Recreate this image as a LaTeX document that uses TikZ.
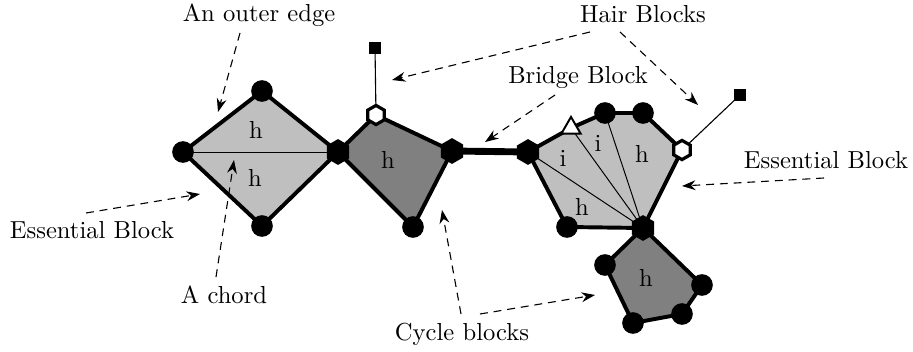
\documentclass[tikz,border=0pt]{standalone}
\usetikzlibrary{shapes.geometric,arrows.meta}
\begin{document}
\begin{tikzpicture}[x=0.4065pt,y=-0.4065pt,
  blk/.style={line width=1.6pt, line join=round},
  light/.style={blk, fill=black!25},
  dark/.style={blk, fill=black!50},
  chord/.style={line width=0.4pt},
  bridge/.style={line width=2.8pt},
  hair/.style={line width=0.45pt},
  dot/.style={circle, fill=black, inner sep=0pt, minimum size=8.8pt},
  cut/.style={regular polygon, regular polygon sides=6, shape border rotate=30, fill=black, inner sep=0pt, minimum size=10.5pt},
  whex/.style={regular polygon, regular polygon sides=6, shape border rotate=30, fill=white, draw=black, line width=1.3pt, inner sep=0pt, minimum size=7.8pt},
  wtri/.style={regular polygon, regular polygon sides=3, fill=white, draw=black, line width=0.8pt, inner sep=0pt, minimum size=9pt},
  sq/.style={rectangle, fill=black, inner sep=0pt, minimum size=5pt},
  lbl/.style={font=\fontsize{10}{12}\selectfont, inner sep=0pt},
  note/.style={dash pattern=on 3.2pt off 2.4pt, line width=0.45pt, -{Stealth[length=5.5pt,width=4pt,inset=1.8pt]}},
]
\useasboundingbox (0,0) rectangle (913,352);
% vertex positions
\coordinate (L1) at (183,152);
\coordinate (L2) at (262,91);
\coordinate (L3) at (338,152);
\coordinate (L4) at (262,226);
\coordinate (D1) at (376,115);
\coordinate (D2) at (452,151);
\coordinate (D3) at (413,227);
\coordinate (R1) at (528,152);
\coordinate (R2) at (571,128);
\coordinate (R3) at (605,113);
\coordinate (R4) at (643,113);
\coordinate (R5) at (682,150);
\coordinate (R6) at (643,228);
\coordinate (R7) at (567,227);
\coordinate (B1) at (605,265);
\coordinate (B2) at (633,323);
\coordinate (B3) at (682,314);
\coordinate (B4) at (702,285);
\coordinate (S1) at (375,48);
\coordinate (S2) at (740,95);
% blocks
\draw[light] (L1) -- (L2) -- (L3) -- (L4) -- cycle;
\draw[dark] (L3) -- (D1) -- (D2) -- (D3) -- cycle;
\draw[light] (R1) -- (R2) -- (R3) -- (R4) -- (R5) -- (R6) -- (R7) -- cycle;
\draw[dark] (R6) -- (B1) -- (B2) -- (B3) -- (B4) -- cycle;
\draw[chord] (L1) -- (L3);
\draw[chord] (R6) -- (R1);
\draw[chord] (R6) -- (R2);
\draw[chord] (R6) -- (R3);
\draw[bridge] (D2) -- (R1);
\draw[hair] (D1) -- (S1);
\draw[hair] (R5) -- (S2);
% vertices
\node[dot] (v1) at (L1) {};
\node[dot] (v2) at (L2) {};
\node[cut] (v3) at (L3) {};
\node[dot] (v4) at (L4) {};
\node[whex] (v5) at (D1) {};
\node[cut] (v6) at (D2) {};
\node[dot] (v7) at (D3) {};
\node[cut] (v8) at (R1) {};
\node[wtri] (v9) at (R2) {};
\node[dot] (v10) at (R3) {};
\node[dot] (v11) at (R4) {};
\node[whex] (v12) at (R5) {};
\node[cut] (v13) at (R6) {};
\node[dot] (v14) at (R7) {};
\node[dot] (v15) at (B1) {};
\node[dot] (v16) at (B2) {};
\node[dot] (v17) at (B3) {};
\node[dot] (v18) at (B4) {};
\node[sq] (s1) at (S1) {};
\node[sq] (s2) at (S2) {};
% face labels
\node[lbl] (f1) at (256,130) {h};
\node[lbl] (f2) at (255,178) {h};
\node[lbl] (f3) at (388,160) {h};
\node[lbl] (f4) at (563,158) {i};
\node[lbl] (f5) at (598,143) {i};
\node[lbl] (f6) at (642,154) {h};
\node[lbl] (f7) at (582,207) {h};
\node[lbl] (f8) at (646,278) {h};
% annotation texts
\node[lbl] (t1) at (259,15) {An outer edge};
\node[lbl] (t2) at (643,14) {Hair Blocks};
\node[lbl] (t3) at (578,77) {Bridge Block};
\node[lbl] (t4) at (826,160) {Essential Block};
\node[lbl] (t5) at (92,230) {Essential Block};
\node[lbl] (t6) at (224,295) {A chord};
\node[lbl] (t7) at (462,334) {Cycle blocks};
% arrow endpoints
\coordinate (a1s) at (240,33);  \coordinate (a1e) at (218,112);
\coordinate (a2s) at (590,32);  \coordinate (a2e) at (392,80);
\coordinate (a3s) at (620,32);  \coordinate (a3e) at (698,105);
\coordinate (a4s) at (555,95);  \coordinate (a4e) at (485,142);
\coordinate (a5s) at (824,178); \coordinate (a5e) at (682,186);
\coordinate (a6s) at (86,213);  \coordinate (a6e) at (200,194);
\coordinate (a7s) at (216,277); \coordinate (a7e) at (234,160);
\coordinate (a8s) at (461,314); \coordinate (a8e) at (442,210);
\coordinate (a9s) at (480,314); \coordinate (a9e) at (595,295);
\draw[note] (a1s) -- (a1e);
\draw[note] (a2s) -- (a2e);
\draw[note] (a3s) -- (a3e);
\draw[note] (a4s) -- (a4e);
\draw[note] (a5s) -- (a5e);
\draw[note] (a6s) -- (a6e);
\draw[note] (a7s) -- (a7e);
\draw[note] (a8s) -- (a8e);
\draw[note] (a9s) -- (a9e);
\end{tikzpicture}
\end{document}
